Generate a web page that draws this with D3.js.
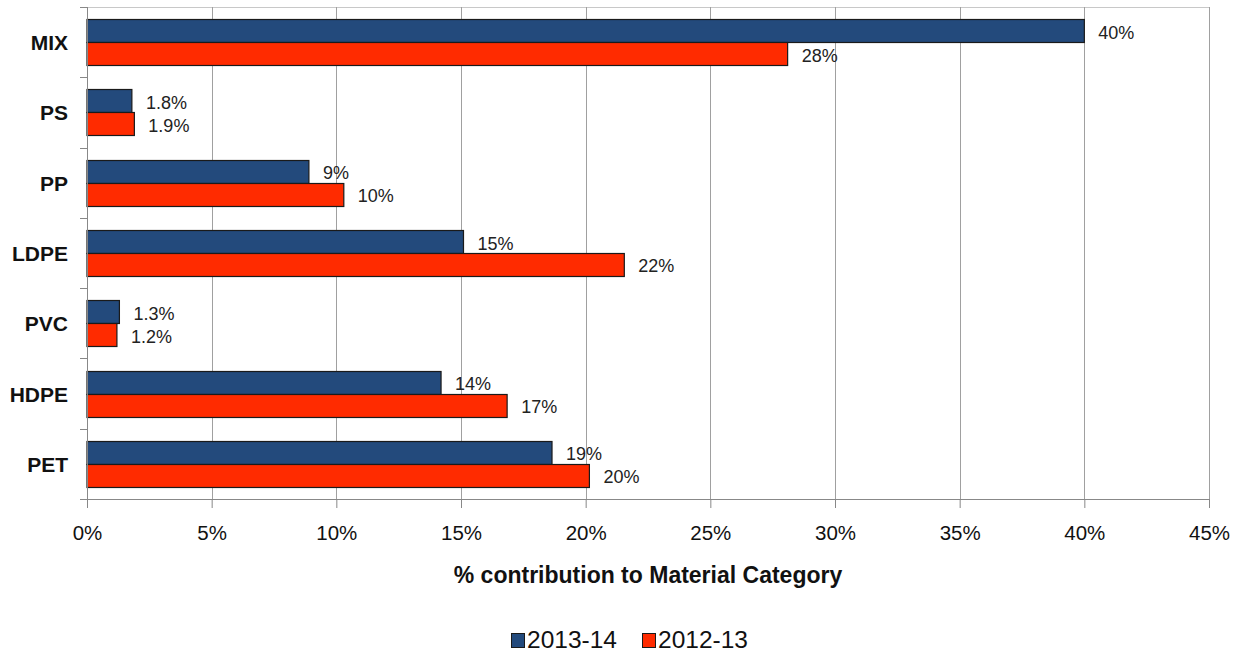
<!DOCTYPE html>
<html><head><meta charset="utf-8">
<script src="https://cdn.jsdelivr.net/npm/d3@7"></script>
<style>body{margin:0;background:#fff}svg{display:block;font-family:"Liberation Sans",Arial,sans-serif}</style>
</head><body><svg id="c" width="1244" height="654"></svg>
<script>
const categories = ["MIX","PS","PP","LDPE","PVC","HDPE","PET"];
const series2013_14 = [40.0, 1.8, 8.9, 15.1, 1.3, 14.2, 18.65];
const series2012_13 = [28.1, 1.9, 10.3, 21.55, 1.2, 16.85, 20.15];
const labels2013_14 = ["40%","1.8%","9%","15%","1.3%","14%","19%"];
const labels2012_13 = ["28%","1.9%","10%","22%","1.2%","17%","20%"];
const seriesNames = ["2013-14","2012-13"];
const colors = ["#234a7c","#ff2b00"];
const xTicks = [0,5,10,15,20,25,30,35,40,45];

const svg = d3.select("#c");
const L=87, R=1209, T=7, B=499;
const x = d3.scaleLinear().domain([0,45]).range([L,R]);
const y = d3.scaleBand().domain(categories).range([T,B]);
const inner = d3.scaleBand().domain(seriesNames).range([0,y.bandwidth()]).paddingOuter(0.53).paddingInner(0);

// top border
svg.append("line").attr("x1",L).attr("x2",R).attr("y1",T+0.5).attr("y2",T+0.5).attr("stroke","#c8c8c8");
// gridlines
svg.append("g").selectAll("line").data(xTicks.slice(1)).join("line")
  .attr("x1",d=>Math.round(x(d))+0.5).attr("x2",d=>Math.round(x(d))+0.5)
  .attr("y1",T).attr("y2",B).attr("stroke","#a0a0a0");

// bars
const data = [series2013_14, series2012_13];
const lbls = [labels2013_14, labels2012_13];
seriesNames.forEach((s,si)=>{
  const g = svg.append("g");
  g.selectAll("rect").data(categories).join("rect")
    .attr("x",L).attr("y",c=>Math.round(y(c)+inner(s))+0.5)
    .attr("width",(c,i)=>x(data[si][i])-L).attr("height",Math.round(inner.bandwidth()))
    .attr("fill",colors[si]).attr("stroke","#1a1a1a").attr("stroke-width",1.2);
  g.selectAll("text").data(categories).join("text")
    .attr("x",(c,i)=>x(data[si][i])+14)
    .attr("y",c=>y(c)+inner(s)+inner.bandwidth()/2+8)
    .attr("font-size",18).attr("fill","#222")
    .text((c,i)=>lbls[si][i]);
});

// x axis
const xa = svg.append("g").attr("transform",`translate(0,${B})`)
  .call(d3.axisBottom(x).tickValues(xTicks).tickFormat(d=>d+"%").tickSize(9).tickSizeOuter(0));
xa.select(".domain").attr("stroke","#888");
xa.selectAll(".tick line").attr("stroke","#888");
xa.selectAll("text").attr("font-size",20.5).attr("fill","#111").attr("y",41).attr("dy",null)
  .attr("font-family","Liberation Sans, Arial, sans-serif");

// y axis
const yTicks = d3.range(categories.length+1).map(i=>T+i*y.step());
svg.append("line").attr("x1",L+0.5).attr("x2",L+0.5).attr("y1",T).attr("y2",B).attr("stroke","#888");
svg.append("g").selectAll("line").data(yTicks).join("line")
  .attr("x1",L-7).attr("x2",L).attr("y1",d=>Math.round(d)+0.5).attr("y2",d=>Math.round(d)+0.5).attr("stroke","#888");
svg.append("g").selectAll("text").data(categories).join("text")
  .attr("x",68).attr("y",c=>y(c)+y.bandwidth()/2+8)
  .attr("text-anchor","end").attr("font-size",21).attr("font-weight","bold").attr("fill","#111")
  .text(c=>c);

// axis title
svg.append("text").attr("x",648).attr("y",583).attr("text-anchor","middle")
  .attr("font-size",23).attr("font-weight","bold").attr("fill","#111")
  .text("% contribution to Material Category");

// legend
const leg = svg.append("g");
const legX = [511, 642];
seriesNames.forEach((s,i)=>{
  leg.append("rect").attr("x",legX[i]+0.5).attr("y",633.5).attr("width",13).attr("height",14)
    .attr("fill",colors[i]).attr("stroke","#1a1a1a");
  leg.append("text").attr("x",legX[i]+16).attr("y",648).attr("font-size",24.5).attr("fill","#111").text(s);
});
</script></body></html>
